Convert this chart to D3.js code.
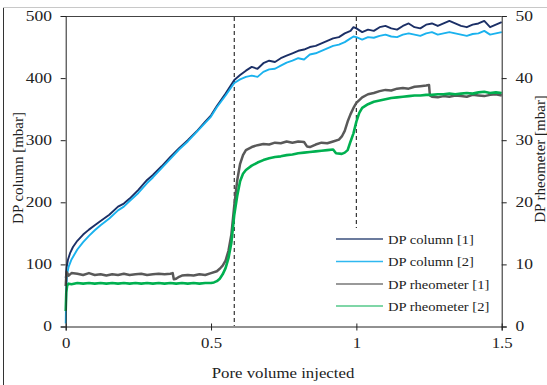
<!DOCTYPE html>
<html>
<head>
<meta charset="utf-8">
<script src="https://cdn.jsdelivr.net/npm/d3@7"></script>
<style>
  body { margin: 0; background: white; }
</style>
</head>
<body>
<script>
var w = 547;
var h = 385;
var serif = "'Liberation Serif', 'Times New Roman', 'DejaVu Serif', serif";

// x values are pore volume injected, column values in mbar (left), rheometer in mbar (right)
var col1X = [0, 0.003, 0.008, 0.015, 0.025, 0.04, 0.06, 0.08, 0.1, 0.12, 0.15, 0.18, 0.2, 0.22, 0.25, 0.28, 0.3, 0.33, 0.36, 0.39, 0.42, 0.45, 0.48, 0.5, 0.52, 0.55, 0.58, 0.6, 0.62, 0.64, 0.66, 0.68, 0.7, 0.72, 0.74, 0.76, 0.78, 0.8, 0.82, 0.84, 0.86, 0.88, 0.9, 0.92, 0.94, 0.96, 0.98, 0.99, 1.0, 1.02, 1.04, 1.06, 1.08, 1.1, 1.12, 1.14, 1.16, 1.18, 1.2, 1.22, 1.24, 1.26, 1.28, 1.3, 1.32, 1.34, 1.36, 1.38, 1.4, 1.42, 1.44, 1.46, 1.48, 1.5];
var col1Y = [78, 95, 108, 118, 128, 138, 148, 156, 163, 170, 180, 193, 198, 206, 220, 236, 244, 258, 273, 287, 300, 314, 330, 340, 355, 375, 397, 405, 412, 418, 415, 424, 428, 426, 432, 436, 440, 444, 446, 450, 452, 456, 460, 464, 466, 472, 476, 482, 480, 474, 478, 476, 482, 484, 480, 478, 484, 488, 482, 480, 486, 488, 484, 488, 492, 488, 484, 482, 486, 488, 492, 482, 486, 490];

var col2X = [0, 0.002, 0.005, 0.01, 0.02, 0.04, 0.06, 0.08, 0.1, 0.12, 0.15, 0.18, 0.2, 0.22, 0.25, 0.28, 0.3, 0.33, 0.36, 0.39, 0.42, 0.45, 0.48, 0.5, 0.52, 0.55, 0.58, 0.6, 0.62, 0.64, 0.66, 0.68, 0.7, 0.72, 0.74, 0.76, 0.78, 0.8, 0.82, 0.84, 0.86, 0.88, 0.9, 0.92, 0.94, 0.96, 0.98, 0.99, 1.0, 1.02, 1.04, 1.06, 1.08, 1.1, 1.12, 1.14, 1.16, 1.18, 1.2, 1.22, 1.24, 1.26, 1.28, 1.3, 1.32, 1.34, 1.36, 1.38, 1.4, 1.42, 1.44, 1.46, 1.48, 1.5];
var col2Y = [5, 60, 85, 96, 108, 124, 136, 146, 155, 163, 174, 187, 193, 202, 215, 231, 240, 255, 270, 285, 298, 313, 328, 338, 353, 372, 392, 398, 402, 404, 402, 410, 414, 415, 420, 425, 428, 432, 430, 438, 440, 444, 448, 452, 454, 458, 464, 467, 466, 462, 466, 465, 468, 470, 467, 466, 470, 472, 470, 468, 472, 474, 470, 472, 474, 472, 470, 468, 471, 472, 476, 470, 472, 474];

var rheo1X = [0, 0.003, 0.01, 0.02, 0.04, 0.06, 0.08, 0.1, 0.12, 0.14, 0.16, 0.18, 0.2, 0.22, 0.24, 0.26, 0.28, 0.3, 0.32, 0.34, 0.36, 0.368, 0.372, 0.38, 0.39, 0.4, 0.42, 0.44, 0.46, 0.48, 0.5, 0.52, 0.53, 0.54, 0.55, 0.56, 0.57, 0.58, 0.59, 0.6, 0.61, 0.62, 0.64, 0.66, 0.68, 0.7, 0.72, 0.74, 0.76, 0.78, 0.8, 0.82, 0.83, 0.84, 0.86, 0.88, 0.9, 0.92, 0.94, 0.95, 0.96, 0.97, 0.98, 0.99, 1.0, 1.02, 1.04, 1.06, 1.08, 1.1, 1.12, 1.14, 1.16, 1.18, 1.2, 1.22, 1.24, 1.25, 1.253, 1.26, 1.28, 1.3, 1.32, 1.34, 1.36, 1.38, 1.4, 1.42, 1.44, 1.46, 1.48, 1.5];
var rheo1Y = [6.5, 8.8, 8.2, 8.6, 8.5, 8.3, 8.6, 8.3, 8.4, 8.2, 8.4, 8.3, 8.5, 8.3, 8.4, 8.5, 8.3, 8.4, 8.5, 8.4, 8.5, 8.6, 7.6, 7.7, 8.0, 8.2, 8.3, 8.2, 8.4, 8.3, 8.6, 8.9, 9.3, 9.8, 10.6, 12.2, 14.8, 19.5, 23.5, 26.2, 27.6, 28.4, 28.9, 29.2, 29.4, 29.3, 29.6, 29.5, 29.8, 29.6, 29.8, 29.7, 29.0, 28.9, 29.3, 29.6, 29.5, 29.8, 30.1, 30.6, 31.5, 33.0, 34.2, 35.2, 36.0, 36.9, 37.4, 37.6, 37.9, 38.1, 38.0, 38.3, 38.4, 38.3, 38.6, 38.7, 38.8, 38.9, 37.2, 37.0, 36.9, 37.1, 37.0, 37.2, 37.1, 37.0, 37.3, 37.2, 37.1, 37.3, 37.4, 37.2];

var rheo2X = [0, 0.002, 0.005, 0.01, 0.02, 0.04, 0.06, 0.08, 0.1, 0.12, 0.14, 0.16, 0.18, 0.2, 0.22, 0.24, 0.26, 0.28, 0.3, 0.32, 0.34, 0.36, 0.38, 0.4, 0.42, 0.44, 0.46, 0.48, 0.5, 0.51, 0.52, 0.53, 0.54, 0.55, 0.56, 0.57, 0.58, 0.59, 0.6, 0.61, 0.62, 0.64, 0.66, 0.68, 0.7, 0.72, 0.74, 0.76, 0.78, 0.8, 0.82, 0.84, 0.86, 0.88, 0.9, 0.92, 0.93, 0.95, 0.96, 0.97, 0.98, 0.99, 1.0, 1.01, 1.02, 1.04, 1.06, 1.08, 1.1, 1.12, 1.14, 1.16, 1.18, 1.2, 1.22, 1.24, 1.26, 1.28, 1.3, 1.32, 1.34, 1.36, 1.38, 1.4, 1.42, 1.44, 1.46, 1.48, 1.5];
var rheo2Y = [2.5, 5.5, 6.6, 6.9, 6.8, 7.0, 6.9, 7.0, 6.9, 7.0, 6.9, 7.0, 6.9, 7.0, 6.9, 7.0, 6.9, 7.0, 6.9, 7.0, 6.9, 7.0, 6.9, 7.0, 6.9, 7.0, 6.9, 7.0, 7.0, 7.1, 7.3, 7.7, 8.4, 9.4, 11.0, 13.5, 18.0, 21.0, 23.4, 24.6, 25.2, 25.9, 26.4, 26.8, 27.1, 27.3, 27.4, 27.6, 27.7, 27.9, 28.0, 28.1, 28.2, 28.3, 28.4, 28.5, 27.9, 27.8, 28.0, 28.4, 29.8, 31.1, 33.0, 34.4, 35.2, 35.8, 36.2, 36.4, 36.6, 36.8, 36.9, 37.0, 37.1, 37.2, 37.2, 37.3, 37.3, 37.4, 37.4, 37.5, 37.4, 37.5, 37.6, 37.5, 37.7, 37.8, 37.6, 37.7, 37.6];

var seriesNames = ["DP column [1]", "DP column [2]", "DP rheometer [1]", "DP rheometer [2]"];
var seriesColors = ["#1b2f66", "#1ab2ee", "#595959", "#00b050"];
var legendColors = ["#3a4f7c", "#2fb8f0", "#777777", "#55c98a"];
var xTicks = [0, 0.5, 1, 1.5];
var yLeftTicks = [0, 100, 200, 300, 400, 500];
var yRightTicks = [0, 10, 20, 30, 40, 50];
var markers = [0.58, 1.0];

var svg = d3.select("body").append("svg")
          .attr("width", w)
          .attr("height", h);

var x = d3.scaleLinear().domain([0, 1.5]).range([65.7, 501.7]);
var yL = d3.scaleLinear().domain([0, 500]).range([326.5, 16]);
var yR = d3.scaleLinear().domain([0, 50]).range([326.5, 16]);

// outer frame bits
svg.append("line").attr("x1", 3.5).attr("x2", 3.5).attr("y1", 7).attr("y2", h)
   .attr("stroke", "#333").attr("stroke-width", 1);
svg.append("line").attr("x1", 3).attr("x2", w).attr("y1", 7.5).attr("y2", 7.5)
   .attr("stroke", "#c8c8c8").attr("stroke-width", 1);

// plot top border
svg.append("line").attr("x1", x(0)).attr("x2", x(1.5)).attr("y1", 16.5).attr("y2", 16.5)
   .attr("stroke", "#444").attr("stroke-width", 1);

// dashed markers
svg.append("line").attr("x1", x(markers[0])).attr("x2", x(markers[0]))
   .attr("y1", 17).attr("y2", 326)
   .attr("stroke", "#333").attr("stroke-width", 1.2).attr("stroke-dasharray", "4,3");
svg.append("line").attr("x1", x(markers[1])).attr("x2", x(markers[1]))
   .attr("y1", 17).attr("y2", 228)
   .attr("stroke", "#333").attr("stroke-width", 1.2).attr("stroke-dasharray", "4,3");

// lines
function drawSeries(xs, ys, scaleY, color, width) {
  var pts = xs.map(function(d, i) { return [d, ys[i]]; });
  var line = d3.line().x(function(d) { return x(d[0]); }).y(function(d) { return scaleY(d[1]); });
  svg.append("path").datum(pts)
     .attr("d", line)
     .attr("fill", "none")
     .attr("stroke", color)
     .attr("stroke-width", width)
     .attr("stroke-linejoin", "round");
}
drawSeries(col1X, col1Y, yL, seriesColors[0], 1.9);
drawSeries(col2X, col2Y, yL, seriesColors[1], 1.9);
drawSeries(rheo1X, rheo1Y, yR, seriesColors[2], 2.5);
drawSeries(rheo2X, rheo2Y, yR, seriesColors[3], 2.6);

// axes
var xAxis = svg.append("g").attr("transform", "translate(0,326.5)")
   .call(d3.axisBottom(x).tickValues(xTicks).tickSize(4).tickPadding(8)
   .tickFormat(function(d) { return d; }));
xAxis.selectAll(".tick line").attr("y1", -3);
xAxis.selectAll(".tick text").attr("transform", "scale(1.2,1)");

var leftAxis = svg.append("g").attr("transform", "translate(65.7,0)")
   .call(d3.axisLeft(yL).tickValues(yLeftTicks).tickSize(5).tickPadding(6));
leftAxis.selectAll(".tick text").attr("transform", "scale(1.25,1)");

var rightAxis = svg.append("g").attr("transform", "translate(501.7,0)")
   .call(d3.axisRight(yR).tickValues(yRightTicks).tickSize(5).tickPadding(6));
rightAxis.selectAll(".tick text").attr("transform", "scale(1.25,1)");

svg.selectAll(".domain").attr("stroke", "#222");
svg.selectAll(".tick line").attr("stroke", "#222");
svg.selectAll(".tick text").style("font-size", "14px").style("font-family", serif).attr("fill", "#222");

// titles
svg.append("text").attr("transform", "translate(283,378) scale(1.12,1)")
   .attr("text-anchor", "middle").style("font-size", "15px").style("font-family", serif).attr("fill", "#222")
   .text("Pore volume injected");
svg.append("text").attr("transform", "translate(23,168) rotate(-90)")
   .attr("text-anchor", "middle").style("font-size", "15px").style("font-family", serif).attr("fill", "#222")
   .text("DP column [mbar]");
svg.append("text").attr("transform", "translate(545,159) rotate(-90)")
   .attr("text-anchor", "middle").style("font-size", "15px").style("font-family", serif).attr("fill", "#222")
   .text("DP rheometer [mbar]");

// legend
var legendY = [239, 261.5, 284, 306];
seriesNames.forEach(function(name, i) {
  svg.append("line").attr("x1", 336).attr("x2", 383)
     .attr("y1", legendY[i]).attr("y2", legendY[i])
     .attr("stroke", legendColors[i]).attr("stroke-width", 1.5);
  svg.append("text").attr("transform", "translate(388," + (legendY[i] + 4.5) + ") scale(1.12,1)")
     .style("font-size", "13px").style("font-family", serif).attr("fill", "#222")
     .text(name);
});
</script>
</body>
</html>
